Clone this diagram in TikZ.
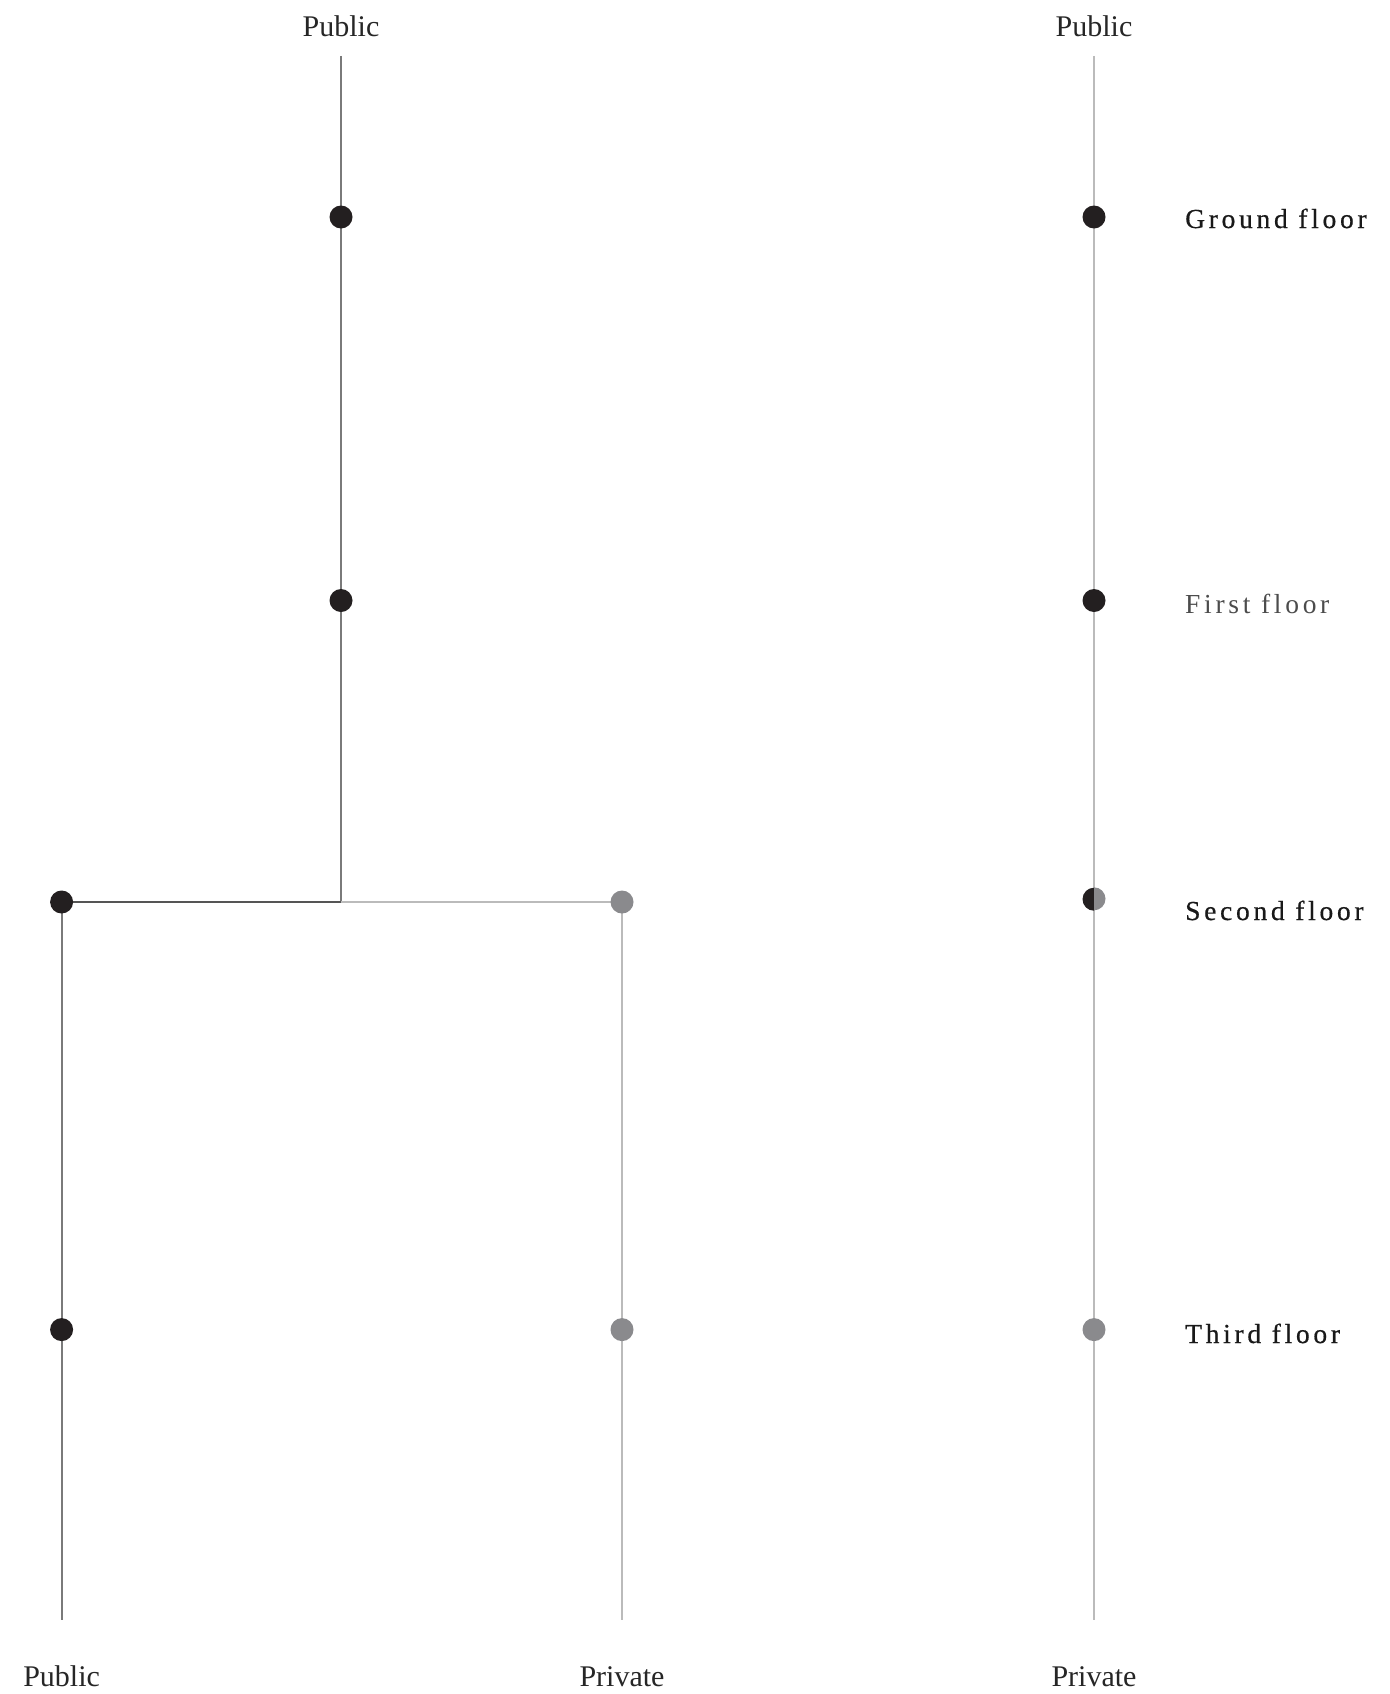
\documentclass[tikz,border=0pt]{standalone}
\usepackage{fontspec}
\setmainfont{Liberation Serif}
\usetikzlibrary{backgrounds}
\definecolor{dotblack}{HTML}{231F20}
\definecolor{dotgray}{HTML}{8A8A8D}
\definecolor{linedark}{HTML}{555555}
\definecolor{linemid}{HTML}{7A7A7A}
\definecolor{linelight}{HTML}{BBBBBB}
\tikzset{
  dotb/.style={circle,fill=dotblack,inner sep=0pt,minimum size=23pt},
  dotg/.style={circle,fill=dotgray,inner sep=0pt,minimum size=23pt},
  halfdot/.style={circle,inner sep=0pt,minimum size=23pt},
  endlabel/.style={inner sep=0pt,font=\fontsize{30}{36}\selectfont,text=black!85},
  floorlabel/.style={inner sep=0pt,anchor=base west,font=\fontsize{27.5}{32}\selectfont\addfontfeature{LetterSpace=13.5}},
  heavy/.style={font=\fontsize{27.5}{32}\selectfont\addfontfeature{LetterSpace=13.5,FakeBold=0.6}},
  conn/.style={line width=2pt},
}
\begin{document}
\begin{tikzpicture}[x=1pt,y=-1pt]
\useasboundingbox (0,0) rectangle (1389,1694);
% left tree
\coordinate (ltop) at (341,56);
\node[dotb] (l1) at (341,217) {};
\node[dotb] (l2) at (341,600.5) {};
\coordinate (lj) at (341,902);
\node[dotb] (la) at (61.6,902) {};
\node[dotg] (lb) at (622,902) {};
\node[dotb] (la2) at (61.6,1329.6) {};
\node[dotg] (lb2) at (622,1329.6) {};
\coordinate (labot) at (61.6,1620);
\coordinate (lbbot) at (622,1620);
% right line
\coordinate (rtop) at (1094,56);
\node[dotb] (r1) at (1094,217) {};
\node[dotb] (r2) at (1094,600.5) {};
\node[halfdot] (r3) at (1094,899) {};
\node[dotg] (r4) at (1094,1329.6) {};
\coordinate (rbot) at (1094,1620);
\fill[dotblack] (r3.south) arc[start angle=270,end angle=90,radius=11.5pt] -- cycle;
\fill[dotgray] (r3.north) arc[start angle=90,end angle=-90,radius=11.5pt] -- cycle;
\begin{scope}[on background layer]
  \draw[conn,linemid] (ltop) -- (l1.center) -- (l2.center) -- (lj);
  \draw[conn,linedark] (lj) -- (la.center);
  \draw[conn,linelight] (lj) -- (lb.center);
  \draw[conn,linemid] (la.center) -- (la2.center) -- (labot);
  \draw[conn,linelight] (lb.center) -- (lb2.center) -- (lbbot);
  \draw[conn,linelight] (rtop) -- (r1.center) -- (r2.center) -- (r3.center) -- (r4.center) -- (rbot);
\end{scope}
% end labels
\node[endlabel,anchor=base] (tl) at (341,37) {Public};
\node[endlabel,anchor=base] (tr) at (1094,37) {Public};
\node[endlabel,anchor=base] (bl) at (61.6,1686) {Public};
\node[endlabel,anchor=base] (bm) at (622,1686) {Private};
\node[endlabel,anchor=base] (br) at (1094,1686) {Private};
% floor labels
\node[floorlabel,heavy,text=black!90] (f0) at (1185,228) {Ground floor};
\node[floorlabel,text=black!70] (f1) at (1185,613) {First floor};
\node[floorlabel,heavy,text=black!90] (f2) at (1185,920) {Second floor};
\node[floorlabel,heavy,text=black!90] (f3) at (1185,1343) {Third floor};
\end{tikzpicture}
\end{document}
